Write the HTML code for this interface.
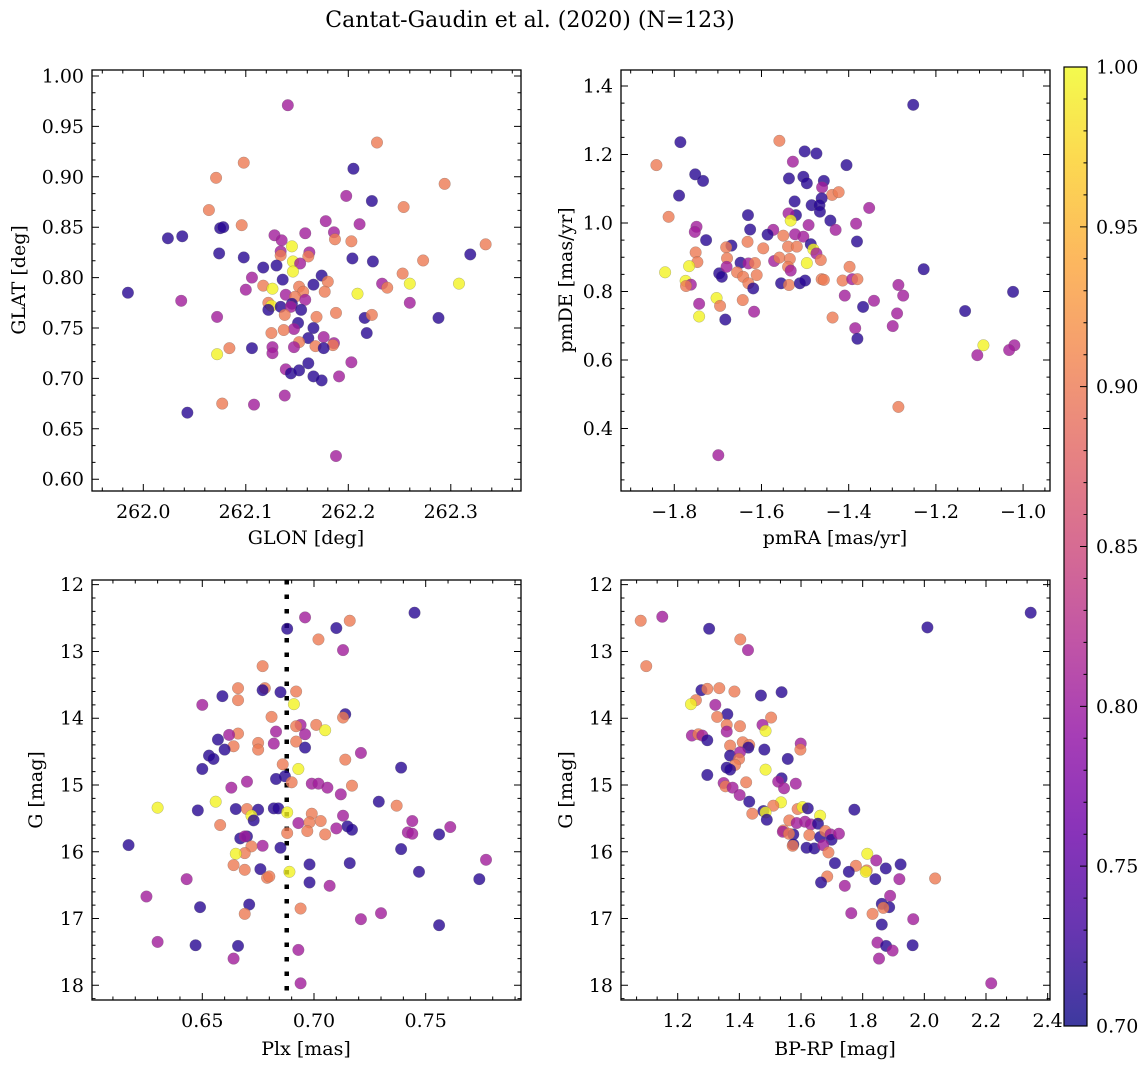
<!DOCTYPE html>
<html><head><meta charset="utf-8"><style>
html,body{margin:0;padding:0;background:#fff;}
svg{display:block;font-family:"DejaVu Serif","Liberation Serif",serif;}
</style></head><body>
<svg id="fig" width="1148" height="1067" viewBox="0 0 1148 1067" xmlns="http://www.w3.org/2000/svg">
<defs>
<linearGradient id="plasmaGrad" x1="0" y1="1" x2="0" y2="0">
<stop offset="0" stop-color="#0d0887"/><stop offset="0.1" stop-color="#41049d"/><stop offset="0.2" stop-color="#6a00a8"/><stop offset="0.3" stop-color="#8f0da4"/><stop offset="0.4" stop-color="#b12a90"/><stop offset="0.5" stop-color="#cc4778"/><stop offset="0.6" stop-color="#e16462"/><stop offset="0.7" stop-color="#f2844b"/><stop offset="0.8" stop-color="#fca636"/><stop offset="0.9" stop-color="#fcce25"/><stop offset="1" stop-color="#f0f921"/>
</linearGradient>
</defs>
<text x="530" y="27" text-anchor="middle" font-size="22">Cantat-Gaudin et al. (2020) (N=123)</text>
<text x="306" y="544" text-anchor="middle" font-size="19">GLON [deg]</text>
<text transform="translate(25,280) rotate(-90)" text-anchor="middle" font-size="19">GLAT [deg]</text>
<text x="835" y="544" text-anchor="middle" font-size="19">pmRA [mas/yr]</text>
<text transform="translate(572,280) rotate(-90)" text-anchor="middle" font-size="19">pmDE [mas/yr]</text>
<text x="306" y="1055" text-anchor="middle" font-size="19">Plx [mas]</text>
<text transform="translate(42,790) rotate(-90)" text-anchor="middle" font-size="19">G [mag]</text>
<text x="835" y="1055" text-anchor="middle" font-size="19">BP-RP [mag]</text>
<text transform="translate(572,790) rotate(-90)" text-anchor="middle" font-size="19">G [mag]</text>
</svg>
<script>
// ---- data (B=0.715 M=0.805 S=0.9 Y=0.995 membership probability) ----
const p1Glon=[262.141,262.228,262.098,262.205,262.071,262.294,262.198,262.223,262.254,262.064,262.178,262.211,262.096,262.075,262.078,262.024,262.038,262.334,262.158,262.186,262.187,262.128,262.135,262.145,262.203,262.074,262.098,262.134,262.134,262.162,262.161,262.204,262.224,262.319,262.273,262.146,262.153,262.117,262.130,262.146,262.253,262.174,262.106,262.136,262.166,262.180,262.117,262.126,262.100,262.152,262.156,262.177,262.233,262.238,262.260,262.308,262.209,261.985,262.139,262.148,262.158,262.037,262.122,262.145,262.260,262.125,262.122,262.134,262.144,262.154,262.138,262.072,262.169,262.188,262.216,262.223,262.288,262.151,262.147,262.137,262.166,262.125,262.161,262.176,262.218,262.152,262.186,262.185,262.147,262.168,262.176,262.126,262.106,262.084,262.072,262.126,262.203,262.161,262.139,262.144,262.152,262.166,262.174,262.191,262.138,262.077,262.108,262.043,262.188];
const p1Glat=[0.971,0.934,0.914,0.908,0.899,0.893,0.881,0.876,0.870,0.867,0.856,0.853,0.852,0.849,0.850,0.839,0.841,0.833,0.844,0.845,0.838,0.842,0.837,0.831,0.836,0.824,0.820,0.826,0.822,0.825,0.821,0.819,0.816,0.823,0.817,0.816,0.814,0.810,0.812,0.806,0.804,0.802,0.800,0.798,0.793,0.796,0.792,0.789,0.788,0.791,0.786,0.786,0.794,0.790,0.794,0.794,0.784,0.785,0.783,0.781,0.778,0.777,0.775,0.774,0.775,0.772,0.768,0.771,0.771,0.768,0.763,0.761,0.761,0.765,0.760,0.763,0.760,0.755,0.749,0.748,0.750,0.745,0.740,0.741,0.745,0.736,0.735,0.733,0.731,0.732,0.730,0.731,0.730,0.730,0.724,0.725,0.716,0.715,0.709,0.705,0.708,0.702,0.698,0.702,0.683,0.675,0.674,0.666,0.623];
const p1Prob=[0.805,0.9,0.9,0.715,0.9,0.9,0.805,0.715,0.9,0.9, 0.805,0.805,0.9,0.715,0.715,0.715,0.715,0.9,0.805,0.805, 0.9,0.805,0.805,0.995,0.9,0.715,0.715,0.805,0.9,0.805, 0.9,0.715,0.715,0.715,0.9,0.995,0.805,0.715,0.715,0.995, 0.9,0.715,0.805,0.715,0.715,0.9,0.9,0.995,0.805,0.9, 0.9,0.9,0.805,0.9,0.995,0.995,0.995,0.715,0.805,0.9, 0.805,0.805,0.9,0.715,0.805,0.995,0.715,0.715,0.805,0.715, 0.9,0.805,0.9,0.9,0.715,0.9,0.715,0.715,0.805,0.9, 0.715,0.9,0.715,0.805,0.715,0.9,0.805,0.9,0.805,0.9, 0.715,0.805,0.715,0.9,0.995,0.805,0.805,0.715,0.805,0.715, 0.715,0.715,0.715,0.805,0.805,0.9,0.805,0.715,0.805];

const p2PmRA=[-1.252,-1.786,-1.559,-1.501,-1.474,-1.841,-1.528,-1.405,-1.752,-1.734,-1.537,-1.504,-1.496,-1.457,-1.461,-1.789,-1.438,-1.423,-1.524,-1.462,-1.485,-1.467,-1.466,-1.353,-1.813,-1.631,-1.521,-1.538,-1.533,-1.442,-1.749,-1.753,-1.383,-1.492,-1.626,-1.430,-1.573,-1.586,-1.727,-1.550,-1.523,-1.504,-1.381,-1.669,-1.681,-1.632,-1.596,-1.539,-1.519,-1.487,-1.481,-1.474,-1.751,-1.747,-1.679,-1.648,-1.630,-1.615,-1.571,-1.559,-1.535,-1.464,-1.496,-1.398,-1.821,-1.766,-1.697,-1.691,-1.680,-1.656,-1.642,-1.611,-1.630,-1.539,-1.533,-1.555,-1.537,-1.512,-1.500,-1.462,-1.457,-1.414,-1.392,-1.380,-1.774,-1.762,-1.773,-1.619,-1.228,-1.023,-1.286,-1.275,-1.409,-1.703,-1.695,-1.643,-1.743,-1.367,-1.342,-1.133,-1.617,-1.743,-1.683,-1.437,-1.289,-1.385,-1.299,-1.380,-1.091,-1.020,-1.032,-1.105,-1.286,-1.699];
const p2PmDE=[1.345,1.236,1.240,1.209,1.203,1.169,1.179,1.169,1.142,1.123,1.130,1.135,1.116,1.123,1.104,1.080,1.082,1.090,1.063,1.072,1.052,1.052,1.033,1.044,1.018,1.023,1.023,1.028,1.007,1.007,0.989,0.974,0.998,0.994,0.981,0.980,0.980,0.966,0.950,0.963,0.967,0.960,0.946,0.934,0.929,0.945,0.926,0.931,0.931,0.938,0.923,0.911,0.914,0.886,0.897,0.884,0.882,0.883,0.889,0.899,0.895,0.892,0.883,0.872,0.856,0.874,0.853,0.843,0.872,0.856,0.843,0.848,0.824,0.872,0.861,0.824,0.819,0.824,0.832,0.836,0.834,0.832,0.836,0.836,0.831,0.820,0.816,0.809,0.865,0.799,0.819,0.788,0.788,0.781,0.758,0.775,0.764,0.755,0.773,0.743,0.741,0.727,0.718,0.724,0.736,0.693,0.699,0.662,0.643,0.643,0.629,0.614,0.463,0.322];
const p2Prob=[0.715,0.715,0.9,0.715,0.715,0.9,0.805,0.715,0.715,0.715, 0.715,0.715,0.715,0.715,0.805,0.715,0.9,0.9,0.715,0.715, 0.715,0.715,0.715,0.805,0.9,0.715,0.715,0.805,0.995,0.715, 0.805,0.805,0.805,0.805,0.715,0.805,0.805,0.715,0.715,0.9, 0.805,0.805,0.715,0.715,0.9,0.9,0.9,0.9,0.9,0.715, 0.995,0.805,0.9,0.9,0.9,0.715,0.805,0.9,0.805,0.9, 0.9,0.9,0.995,0.9,0.995,0.995,0.715,0.715,0.805,0.9, 0.9,0.9,0.9,0.9,0.805,0.715,0.9,0.715,0.715,0.9, 0.9,0.9,0.805,0.9,0.995,0.805,0.9,0.715,0.715,0.715, 0.805,0.805,0.805,0.995,0.9,0.9,0.805,0.715,0.805,0.715, 0.805,0.995,0.715,0.9,0.805,0.805,0.805,0.715,0.995,0.805, 0.805,0.805,0.9,0.805];

const p3Plx=[0.745,0.696,0.716,0.688,0.710,0.702,0.713,0.677,0.666,0.678,0.677,0.685,0.692,0.659,0.666,0.650,0.691,0.714,0.713,0.681,0.694,0.692,0.701,0.705,0.666,0.662,0.683,0.696,0.657,0.675,0.682,0.692,0.664,0.660,0.675,0.696,0.653,0.655,0.721,0.714,0.686,0.693,0.650,0.739,0.687,0.683,0.690,0.670,0.663,0.699,0.702,0.706,0.717,0.712,0.656,0.729,0.737,0.630,0.648,0.665,0.670,0.675,0.682,0.684,0.688,0.699,0.672,0.673,0.713,0.693,0.698,0.703,0.658,0.744,0.715,0.717,0.710,0.697,0.688,0.705,0.742,0.744,0.756,0.761,0.667,0.670,0.669,0.617,0.677,0.685,0.672,0.669,0.665,0.739,0.777,0.698,0.716,0.664,0.669,0.676,0.689,0.747,0.643,0.679,0.680,0.774,0.698,0.707,0.625,0.671,0.649,0.669,0.694,0.721,0.730,0.756,0.630,0.647,0.666,0.664,0.693,0.694];
const p3G=[12.42,12.49,12.54,12.66,12.65,12.82,12.98,13.22,13.55,13.55,13.58,13.61,13.60,13.67,13.73,13.80,13.79,13.94,13.99,13.98,14.10,14.12,14.10,14.18,14.23,14.25,14.20,14.24,14.32,14.37,14.38,14.35,14.42,14.47,14.47,14.44,14.56,14.61,14.52,14.62,14.69,14.76,14.76,14.74,14.87,14.91,14.96,14.95,15.04,14.98,14.98,15.04,15.01,15.14,15.25,15.25,15.31,15.34,15.38,15.36,15.36,15.37,15.35,15.35,15.41,15.43,15.46,15.53,15.46,15.57,15.56,15.54,15.60,15.54,15.62,15.67,15.65,15.69,15.72,15.74,15.71,15.73,15.74,15.63,15.80,15.77,15.77,15.90,15.91,15.94,15.92,16.02,16.03,15.96,16.12,16.19,16.17,16.20,16.27,16.26,16.30,16.30,16.41,16.39,16.37,16.41,16.46,16.51,16.67,16.79,16.83,16.93,16.85,17.01,16.92,17.10,17.35,17.40,17.41,17.60,17.47,17.97];
const p3Prob=[0.715,0.805,0.9,0.715,0.715,0.9,0.805,0.9,0.9,0.9, 0.715,0.715,0.9,0.715,0.9,0.805,0.995,0.715,0.9,0.9, 0.805,0.9,0.9,0.995,0.9,0.805,0.805,0.805,0.715,0.9, 0.805,0.9,0.9,0.715,0.9,0.715,0.715,0.715,0.805,0.9, 0.9,0.995,0.715,0.715,0.715,0.715,0.9,0.805,0.805,0.805, 0.805,0.805,0.9,0.805,0.995,0.715,0.9,0.995,0.715,0.715, 0.9,0.715,0.715,0.715,0.995,0.9,0.995,0.715,0.805,0.805, 0.9,0.9,0.9,0.805,0.715,0.715,0.805,0.9,0.9,0.9, 0.805,0.805,0.715,0.805,0.715,0.715,0.805,0.715,0.805,0.715, 0.9,0.9,0.995,0.715,0.805,0.715,0.715,0.9,0.9,0.715, 0.995,0.715,0.805,0.9,0.9,0.715,0.715,0.805,0.805,0.715, 0.715,0.9,0.9,0.805,0.805,0.715,0.805,0.715,0.715,0.805, 0.805,0.805];
const p3ClusterPlx=0.6878;

const p4BpRp=[1.080,1.150,1.302,2.010,2.345,1.403,1.428,1.098,1.277,1.296,1.335,1.384,1.470,1.537,1.259,1.243,1.322,1.361,1.328,1.503,1.475,1.485,1.359,1.402,1.359,1.246,1.267,1.280,1.296,1.599,1.598,1.370,1.411,1.432,1.429,1.481,1.557,1.370,1.402,1.399,1.386,1.359,1.370,1.485,1.296,1.537,1.526,1.545,1.583,1.422,1.349,1.355,1.378,1.401,1.432,1.535,1.510,1.478,1.485,1.489,1.442,1.773,1.589,1.605,1.622,1.662,1.562,1.586,1.613,1.632,1.655,1.543,1.541,1.575,1.561,1.627,1.662,1.679,1.696,1.699,1.723,1.575,1.573,1.618,1.643,1.672,1.689,1.710,1.815,1.844,1.778,1.755,1.813,1.810,1.875,1.923,1.685,1.665,1.841,1.919,2.035,1.742,1.889,1.862,1.886,1.867,1.763,1.832,1.964,1.862,1.848,1.876,1.897,1.962,1.853,2.217];
const p4G=[12.54,12.48,12.66,12.64,12.42,12.82,12.98,13.22,13.58,13.56,13.55,13.60,13.66,13.61,13.73,13.79,13.80,13.94,13.98,13.99,14.10,14.19,14.10,14.12,14.20,14.26,14.24,14.26,14.33,14.38,14.47,14.41,14.36,14.40,14.44,14.47,14.61,14.56,14.51,14.61,14.70,14.74,14.77,14.77,14.85,14.90,14.95,15.05,14.98,14.96,14.97,15.02,15.04,15.15,15.25,15.26,15.31,15.39,15.41,15.52,15.43,15.37,15.36,15.33,15.35,15.46,15.53,15.57,15.55,15.59,15.58,15.68,15.70,15.74,15.73,15.75,15.78,15.69,15.74,15.82,15.73,15.89,15.91,15.94,15.95,15.90,16.01,16.17,16.03,16.13,16.21,16.30,16.28,16.30,16.25,16.19,16.37,16.46,16.41,16.41,16.40,16.51,16.66,16.78,16.83,16.84,16.92,16.93,17.01,17.09,17.36,17.41,17.48,17.40,17.60,17.97];
const p4Prob=[0.9,0.805,0.715,0.715,0.715,0.9,0.805,0.9,0.715,0.9, 0.9,0.9,0.715,0.715,0.9,0.995,0.805,0.715,0.9,0.9, 0.805,0.995,0.9,0.9,0.805,0.805,0.9,0.805,0.715,0.805, 0.9,0.9,0.9,0.9,0.715,0.715,0.715,0.715,0.805,0.9, 0.9,0.715,0.715,0.995,0.715,0.715,0.805,0.805,0.805,0.9, 0.805,0.9,0.805,0.805,0.715,0.995,0.9,0.715,0.995,0.715, 0.9,0.715,0.9,0.995,0.715,0.995,0.9,0.805,0.805,0.805, 0.715,0.9,0.805,0.715,0.9,0.9,0.715,0.9,0.805,0.715, 0.805,0.715,0.9,0.715,0.715,0.805,0.9,0.715,0.995,0.805, 0.9,0.715,0.9,0.995,0.715,0.715,0.9,0.715,0.715,0.805, 0.9,0.805,0.805,0.715,0.715,0.9,0.805,0.9,0.805,0.715, 0.805,0.715,0.805,0.715,0.805,0.805];

const cbarTicks=[0.70,0.75,0.80,0.85,0.90,0.95,1.00];
const p1XTicks=[262.0,262.1,262.2,262.3];
const p1YTicks=[0.60,0.65,0.70,0.75,0.80,0.85,0.90,0.95,1.00];
const p2XTicks=[-1.8,-1.6,-1.4,-1.2,-1.0];
const p2YTicks=[0.4,0.6,0.8,1.0,1.2,1.4];
const p3XTicks=[0.65,0.70,0.75];
const gYTicks=[12,13,14,15,16,17,18];
const p4XTicks=[1.2,1.4,1.6,1.8,2.0,2.2,2.4];

const NS="http://www.w3.org/2000/svg";
const svg=document.getElementById('fig');
const stops=[[0,13,8,135],[0.1,65,4,157],[0.2,106,0,168],[0.3,143,13,164],[0.4,177,42,144],[0.5,204,71,120],[0.6,225,100,98],[0.7,242,132,75],[0.8,252,166,54],[0.9,252,206,37],[1,240,249,33]];
function plasma(v){let t=Math.max(0,Math.min(1,(v-0.7)/0.3));for(let i=1;i<stops.length;i++){if(t<=stops[i][0]){const a=stops[i-1],b=stops[i],f=(t-a[0])/(b[0]-a[0]);return 'rgb('+[1,2,3].map(k=>Math.round(a[k]+f*(b[k]-a[k]))).join(',')+')';}}return 'rgb(240,249,33)';}
function mk(tag,attrs,parent){const e=document.createElementNS(NS,tag);for(const k in attrs)e.setAttribute(k,attrs[k]);(parent||svg).appendChild(e);return e;}

function panel(o){
  const g=mk('g',{});
  
  
  const sx=v=>o.L+(v-o.x0)/(o.x1-o.x0)*(o.R-o.L);
  const sy=o.invert?(v=>o.T+(v-o.y0)/(o.y1-o.y0)*(o.B-o.T)):(v=>o.B-(v-o.y0)/(o.y1-o.y0)*(o.B-o.T));
  if(o.vline!==undefined){
    const ln=mk('line',{x1:sx(o.vline),x2:sx(o.vline),y1:o.T,y2:o.B,stroke:'#000','stroke-width':4.5,'stroke-dasharray':'4.5 10'},g);
    
    
  }
  for(let i=0;i<o.xs.length;i++){
    const c=mk('circle',{cx:sx(o.xs[i]),cy:sy(o.ys[i]),r:5.8,fill:plasma(o.cs[i]),'fill-opacity':0.8,stroke:'#666','stroke-width':0.4,'stroke-opacity':0.6},g);
    
    
  }
  const fr=mk('rect',{x:o.L,y:o.T,width:o.R-o.L,height:o.B-o.T,fill:'none',stroke:'#000','stroke-width':1.3},g);
  
  
  let p='';
  const xminor=o.xminor, yminor=o.yminor;
  for(let v=Math.ceil(o.x0/xminor-1e-6)*xminor;v<=o.x1+1e-9;v+=xminor){const x=sx(v);p+=`M${x},${o.B}v-3.5M${x},${o.T}v3.5`;}
  for(let v=Math.ceil(Math.min(o.y0,o.y1)/yminor-1e-6)*yminor;v<=Math.max(o.y0,o.y1)+1e-9;v+=yminor){const y=sy(v);p+=`M${o.L},${y}h3.5M${o.R},${y}h-3.5`;}
  o.xt.forEach(v=>{const x=sx(v);p+=`M${x},${o.B}v-7M${x},${o.T}v7`;
    const t=mk('text',{x:x,y:o.B+27,'text-anchor':'middle','font-size':19},g);t.textContent=o.xfmt(v);
    
    });
  o.yt.forEach(v=>{const y=sy(v);p+=`M${o.L},${y}h7M${o.R},${y}h-7`;
    const t=mk('text',{x:o.L-8,y:y+6.5,'text-anchor':'end','font-size':19},g);t.textContent=o.yfmt(v);
    
    });
  const tk=mk('path',{d:p,stroke:'#000','stroke-width':1,fill:'none'},g);
  
  
}
const minus=s=>s.replace('-','\u2212');
panel({name:'panel-glon-glat',L:92,R:521,T:70,B:491,x0:261.94995,x1:262.3685,y0:0.5883,y1:1.00595,xs:p1Glon,ys:p1Glat,cs:p1Prob,xt:p1XTicks,yt:p1YTicks,xminor:0.02,yminor:0.05/3,xfmt:v=>v.toFixed(1),yfmt:v=>v.toFixed(2)});
panel({name:'panel-pmra-pmde',L:621,R:1050,T:70,B:491,x0:-1.9222,x1:-0.9383,y0:0.2175,y1:1.4467,xs:p2PmRA,ys:p2PmDE,cs:p2Prob,xt:p2XTicks,yt:p2YTicks,xminor:0.05,yminor:0.05,xfmt:v=>minus(v.toFixed(1)),yfmt:v=>v.toFixed(1)});
panel({name:'panel-plx-g',L:92,R:521,T:580,B:1000,x0:0.60063,x1:0.79266,y0:11.930,y1:18.220,invert:true,vline:p3ClusterPlx,xs:p3Plx,ys:p3G,cs:p3Prob,xt:p3XTicks,yt:gYTicks,xminor:0.01,yminor:0.2,xfmt:v=>v.toFixed(2),yfmt:v=>String(v)});
panel({name:'panel-bprp-g',L:621,R:1050,T:580,B:1000,x0:1.01609,x1:2.4076,y0:11.930,y1:18.220,invert:true,xs:p4BpRp,ys:p4G,cs:p4Prob,xt:p4XTicks,yt:gYTicks,xminor:0.2/3,yminor:0.2,xfmt:v=>v.toFixed(1),yfmt:v=>String(v)});

// colorbar
const cb=mk('g',{});


const cL=1064,cR=1087,cT=67,cB=1026;
const cy=v=>cB-(v-0.7)/0.3*(cB-cT);
mk('rect',{x:cL,y:cT,width:cR-cL,height:cB-cT,fill:'url(#plasmaGrad)','fill-opacity':0.8},cb);
mk('rect',{x:cL,y:cT,width:cR-cL,height:cB-cT,fill:'none',stroke:'#000','stroke-width':1.2},cb);
let cp='';
for(let v=0.70;v<=1.0001;v+=0.01){cp+=`M${cR},${cy(v)}h-3.5`;}
cbarTicks.forEach(v=>{cp+=`M${cR},${cy(v)}h-7`;
  const t=mk('text',{x:cR+9,y:cy(v)+6.5,'font-size':19},cb);t.textContent=v.toFixed(2);
  
  });
mk('path',{d:cp,stroke:'#000','stroke-width':1,fill:'none'},cb);
</script>
</body></html>
